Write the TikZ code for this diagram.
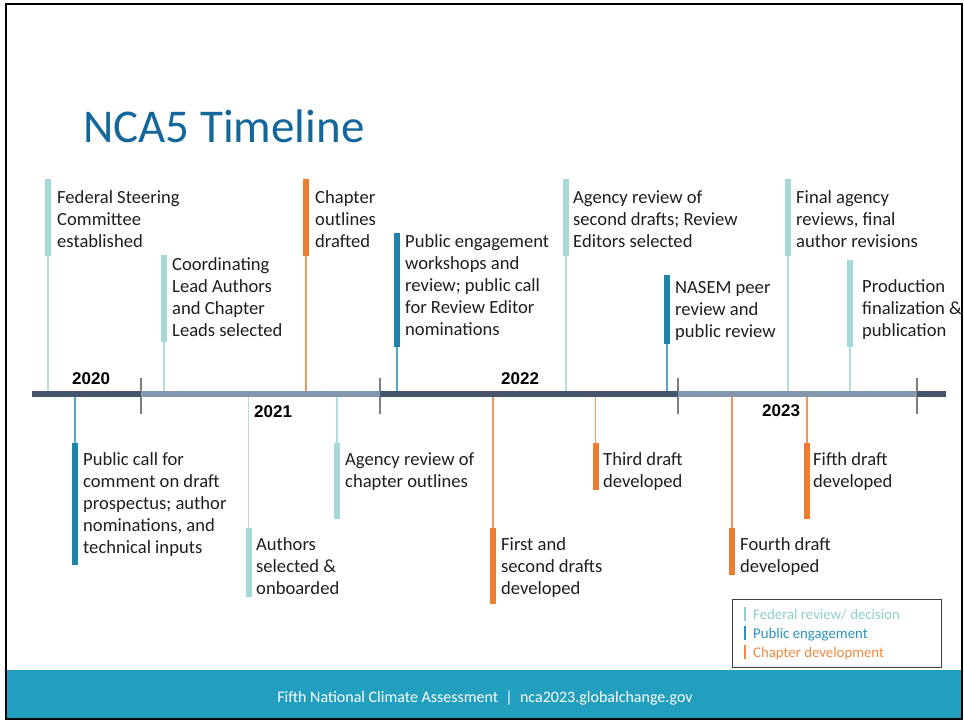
\documentclass[tikz,border=0pt]{standalone}
\usepackage{fontspec}
\setmainfont{Carlito}
\newfontfamily\arialf{Liberation Sans}
\definecolor{fedc}{HTML}{A5D8D6}
\definecolor{pubc}{HTML}{1F85A8}
\definecolor{chc}{HTML}{ED7D31}
\definecolor{axdark}{HTML}{44546A}
\definecolor{axlight}{HTML}{8497B0}
\definecolor{tickc}{HTML}{7F7F7F}
\definecolor{footc}{HTML}{229EBE}
\definecolor{titlec}{HTML}{14679B}
\definecolor{legf}{HTML}{8ECFCC}
\definecolor{legp}{HTML}{2A93BE}
\definecolor{legc}{HTML}{F08A42}
\newcommand\evlines[1]{\begin{tabular}[t]{@{}l@{}}#1\end{tabular}}
\tikzset{
  evbar/.style={rectangle, draw=none, inner sep=0pt, minimum width=6pt, anchor=north},
  fedbar/.style={evbar, fill=fedc},
  pubbar/.style={evbar, fill=pubc},
  chbar/.style={evbar, fill=chc},
  fedln/.style={draw=fedc!85, line width=1.4pt},
  publn/.style={draw=pubc!75, line width=1.4pt},
  chln/.style={draw=chc!80, line width=1.4pt},
  evtext/.style={anchor=base west, inner sep=0pt, font=\fontsize{18.6}{22.2}\selectfont, text=black!88},
  yearlab/.style={anchor=base west, inner sep=0pt, font=\arialf\bfseries\fontsize{17}{20}\selectfont},
  axseg/.style={line width=6pt},
  tickln/.style={draw=tickc, line width=1.5pt},
  legtext/.style={anchor=base west, inner sep=0pt, font=\fontsize{14.8}{17}\selectfont},
  legmark/.style={line width=2pt},
}
\begin{document}
\begin{tikzpicture}[x=1pt,y=-1pt]
\useasboundingbox (0,0) rectangle (964,721);
\fill[white] (0,0) rectangle (964,721);
\fill[footc] (6,670) rectangle (962,719);
% title
\node[anchor=base west, inner sep=0pt, text=titlec, font=\fontsize{47}{52}\selectfont] (title) at (83,142) {NCA5 Timeline};
% axis coordinates
\coordinate (ax0) at (32,394);
\coordinate (t1) at (141,394);
\coordinate (t2) at (380,394);
\coordinate (t3) at (678,394);
\coordinate (t4) at (917,394);
\coordinate (ax5) at (946,394);
% event anchor points on axis
\coordinate (a1) at (48,394);
\coordinate (a2) at (164,394);
\coordinate (a3) at (306,394);
\coordinate (a4) at (397,394);
\coordinate (a5) at (566,394);
\coordinate (a6) at (667,394);
\coordinate (a7) at (788,394);
\coordinate (a8) at (850,394);
\coordinate (a9) at (75,394);
\coordinate (a10) at (248.5,394);
\coordinate (a11) at (337,394);
\coordinate (a12) at (493,394);
\coordinate (a13) at (595.5,394);
\coordinate (a14) at (732,394);
\coordinate (a15) at (807,394);
% bars above
\node[fedbar, minimum height=77pt] (b1) at (48,179) {};
\node[fedbar, minimum height=87pt] (b2) at (164,255) {};
\node[chbar, minimum height=77pt] (b3) at (306,179) {};
\node[pubbar, minimum height=114pt] (b4) at (397,233) {};
\node[fedbar, minimum height=77pt] (b5) at (566,179) {};
\node[pubbar, minimum height=69pt] (b6) at (667,275) {};
\node[fedbar, minimum height=77pt] (b7) at (788,179) {};
\node[fedbar, minimum height=87pt] (b8) at (850,260) {};
% bars below
\node[pubbar, minimum height=122pt] (b9) at (75,443) {};
\node[fedbar, minimum height=69pt] (b10) at (248.5,528) {};
\node[fedbar, minimum height=76pt] (b11) at (337,443) {};
\node[chbar, minimum height=76pt] (b12) at (493,528) {};
\node[chbar, minimum height=47pt] (b13) at (595.5,443) {};
\node[chbar, minimum height=47pt] (b14) at (732,528) {};
\node[chbar, minimum height=76pt] (b15) at (807,443) {};
% connectors
\draw[fedln] (b1.south) -- (a1);
\draw[fedln] (b2.south) -- (a2);
\draw[chln] (b3.south) -- (a3);
\draw[publn] (b4.south) -- (a4);
\draw[fedln] (b5.south) -- (a5);
\draw[publn] (b6.south) -- (a6);
\draw[fedln] (b7.south) -- (a7);
\draw[fedln] (b8.south) -- (a8);
\draw[publn] (a9) -- (b9.north);
\draw[fedln] (a10) -- (b10.north);
\draw[fedln] (a11) -- (b11.north);
\draw[chln] (a12) -- (b12.north);
\draw[chln] (a13) -- (b13.north);
\draw[chln] (a14) -- (b14.north);
\draw[chln] (a15) -- (b15.north);
% ticks
\draw[tickln] ([yshift=-20pt]t1) -- ([yshift=16pt]t1);
\draw[tickln] ([yshift=-20pt]t2) -- ([yshift=16pt]t2);
\draw[tickln] ([yshift=-20pt]t3) -- ([yshift=16pt]t3);
\draw[tickln] ([yshift=-20pt]t4) -- ([yshift=16pt]t4);
% axis
\draw[axseg, axdark] (ax0) -- (t1);
\draw[axseg, axlight] (t1) -- (t2);
\draw[axseg, axdark] (t2) -- (t3);
\draw[axseg, axlight] (t3) -- (t4);
\draw[axseg, axdark] (t4) -- (ax5);
% years
\node[yearlab] (y2020) at (72,384) {2020};
\node[yearlab] (y2021) at (254,417) {2021};
\node[yearlab] (y2022) at (501,384) {2022};
\node[yearlab] (y2023) at (762,416) {2023};
% event texts
\node[evtext] (e1) at (57,203) {\evlines{Federal Steering\\Committee\\established}};
\node[evtext] (e2) at (172,270) {\evlines{Coordinating\\Lead Authors\\and Chapter\\Leads selected}};
\node[evtext] (e3) at (315,203) {\evlines{Chapter\\outlines\\drafted}};
\node[evtext] (e4) at (405,247) {\evlines{Public engagement\\workshops and\\review; public call\\for Review Editor\\nominations}};
\node[evtext] (e5) at (573,203) {\evlines{Agency review of\\second drafts; Review\\Editors selected}};
\node[evtext] (e6) at (675,293) {\evlines{NASEM peer\\review and\\public review}};
\node[evtext] (e7) at (796,203) {\evlines{Final agency\\reviews, final\\author revisions}};
\node[evtext] (e8) at (862,292) {\evlines{Production\\finalization \&\\publication}};
\node[evtext] (e9) at (83,465) {\evlines{Public call for\\comment on draft\\prospectus; author\\nominations, and\\technical inputs}};
\node[evtext] (e10) at (256,550) {\evlines{Authors\\selected \&\\onboarded}};
\node[evtext] (e11) at (345,465) {\evlines{Agency review of\\chapter outlines}};
\node[evtext] (e12) at (501,550) {\evlines{First and\\second drafts\\developed}};
\node[evtext] (e13) at (603,465) {\evlines{Third draft\\developed}};
\node[evtext] (e14) at (740,550) {\evlines{Fourth draft\\developed}};
\node[evtext] (e15) at (813,465) {\evlines{Fifth draft\\developed}};
% legend
\node[draw=black!75, line width=1.2pt, rectangle, inner sep=0pt, minimum width=209pt, minimum height=68pt, anchor=north west] (leg) at (732,599) {};
\coordinate (m1) at (745,614);
\coordinate (m2) at (745,633);
\coordinate (m3) at (745,652);
\draw[legmark, legf] ([yshift=-7pt]m1) -- ([yshift=7pt]m1);
\draw[legmark, legp] ([yshift=-7pt]m2) -- ([yshift=7pt]m2);
\draw[legmark, legc] ([yshift=-7pt]m3) -- ([yshift=7pt]m3);
\node[legtext, text=legf] (l1) at (753,619) {Federal review/ decision};
\node[legtext, text=legp] (l2) at (753,638) {Public engagement};
\node[legtext, text=legc] (l3) at (753,657) {Chapter development};
% footer
\node[anchor=base, inner sep=0pt, text=white, font=\fontsize{16}{19}\selectfont] (foot) at (485,702) {Fifth National Climate Assessment \ {}\textbar{}\ {} nca2023.globalchange.gov};
% frame
\draw[black, line width=2pt] (6,4) rectangle (962,719);
\end{tikzpicture}
\end{document}
